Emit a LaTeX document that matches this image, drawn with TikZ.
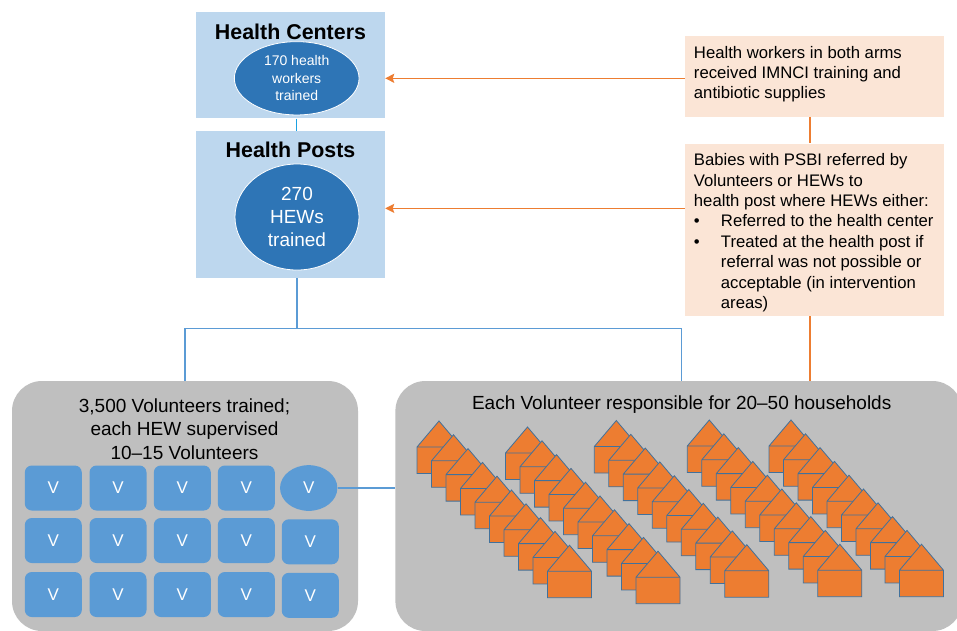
\documentclass[tikz,border=0pt]{standalone}
\usepackage{fontspec}
\setmainfont{Liberation Sans}
\usetikzlibrary{arrows.meta, shapes.geometric, positioning}
\definecolor{centerblue}{RGB}{189, 215, 238}
\definecolor{ellipseblue}{RGB}{46, 117, 182}
\definecolor{volblue}{RGB}{91, 155, 213}
\definecolor{linkcyan}{RGB}{27, 161, 226}
\definecolor{boxgray}{RGB}{191, 191, 191}
\definecolor{notepeach}{RGB}{251, 229, 214}
\definecolor{noteorange}{RGB}{237, 125, 49}
\definecolor{houseedge}{RGB}{65, 113, 156}
\newcommand{\notebullet}{\makebox[27pt][l]{\textbullet}}
\newcommand{\noteindent}{\makebox[27pt]{}}

\begin{document}
\begin{tikzpicture}[x=1pt, y=-1pt,
    levelbox/.style={fill=centerblue, minimum width=189pt, inner sep=0pt},
    leveltitle/.style={font=\bfseries\fontsize{21.4}{25}\selectfont},
    staffell/.style={ellipse, fill=ellipseblue, draw=white, line width=0.8pt, text=white, align=center, inner sep=0pt},
    notebox/.style={fill=notepeach, minimum width=258.7pt, inner sep=0pt},
    notetext/.style={anchor=north west, align=left, inner sep=0pt, font=\fontsize{16.7}{20.4}\selectfont},
    groupbox/.style={fill=boxgray, rounded corners=30pt, minimum height=250pt, inner sep=0pt},
    grouptitle/.style={align=center, font=\fontsize{19}{23.5}\selectfont},
    vbox/.style={fill=volblue, rounded corners=7pt, minimum width=57pt, minimum height=45pt, text=white, inner sep=0pt, font=\fontsize{17}{20}\selectfont},
    treeline/.style={volblue, line width=1.5pt},
    noteline/.style={noteorange, line width=1.5pt},
    house/.style={fill=noteorange, draw=houseedge, line width=0.8pt, line join=miter}]
    \path[use as bounding box, fill=white] (0,0) rectangle (957,630);

    % 卫生中心
    \node[levelbox, minimum height=106pt] (hc) at (290.5,65.3) {};
    \node[leveltitle] (hctitle) at (290.5,31.7) {Health Centers};
    \node[staffell, minimum width=124.7pt, minimum height=73.3pt, font=\fontsize{14}{17.5}\selectfont] (hcell) at (296.7,78.3) {170 health\\workers\\trained};

    % 卫生站
    \node[levelbox, minimum height=146.7pt, below=12.7pt of hc] (hp) {};
    \node[leveltitle] (hptitle) at (290.5,150) {Health Posts};
    \node[staffell, minimum width=124pt, minimum height=106pt, font=\fontsize{19}{23}\selectfont] (hpell) at (297,217) {270\\HEWs\\trained};
    \draw[linkcyan, line width=1.5pt] (hcell |- hc.south) -- (hcell |- hp.north);

    % 右侧说明框
    \node[notebox, minimum height=80.7pt] (note1) at (814.3,76.3) {};
    \node[notetext] (note1txt) at ([xshift=9pt, yshift=-10pt]note1.north west) {Health workers in both arms\\received IMNCI training and\\antibiotic supplies};
    \node[notebox, minimum height=172.4pt, below=26.6pt of note1] (note2) {};
    \node[notetext] (note2txt) at ([xshift=9pt, yshift=-10pt]note2.north west) {Babies with PSBI referred by\\Volunteers or HEWs to\\health post where HEWs either:\\\notebullet Referred to the health center\\\notebullet Treated at the health post if\\\noteindent referral was not possible or\\\noteindent acceptable (in intervention\\\noteindent areas)};

    % 志愿者与家庭
    \node[groupbox, minimum width=346pt] (vol) at (185,506) {};
    \node[groupbox, minimum width=567pt, right=37pt of vol] (hh) {};
    \node[grouptitle] (voltitle) at (184.5,429) {3,500 Volunteers trained;\\each HEW supervised\\10--15 Volunteers};
    \node[grouptitle] (hhtitle) at (681.7,405) {Each Volunteer responsible for 20--50 households};

    % 志愿者方块
    \foreach \r/\vy in {1/488, 2/540.5, 3/594.5}
        \foreach \c/\vx in {1/53.3, 2/118, 3/182.3, 4/246.3}
            \node[vbox] (v\r\c) at (\vx,\vy) {V};
    \node[vbox, ellipse, sharp corners, minimum width=57.3pt, minimum height=45.7pt] (v15) at (308.7,488) {V};
    \node[vbox] (v25) at (310.3,541.8) {V};
    \node[vbox] (v35) at (310.3,595.3) {V};

    % 房屋
    \foreach \gx/\gy in {417/447, 505.5/453, 594.3/446.5, 687.3/446, 769/446}
        \foreach \i in {0,...,9}
            \filldraw[house] ({\gx+14.5*\i},{\gy+13.8*\i}) -- ++(0,26.5) -- ++(44,0) -- ++(0,-26.5) -- ++(-22,-26) -- cycle
                ({\gx+14.5*\i},{\gy+13.8*\i}) -- ++(44,0);

    % 连线
    \path (hpell |- hp.south) ++(0,50) coordinate (fork);
    \draw[treeline] (hpell |- hp.south) -- (fork);
    \draw[treeline] (vol.north) |- (fork) -| (hhtitle |- hh.north);
    \draw[treeline] (v15.east) -- (v15.east -| hh.west);

    \coordinate (n2in) at ([yshift=21.5pt]note2.west);
    \coordinate (n1out) at ([xshift=-4.5pt]note1.south);
    \coordinate (n2out) at ([xshift=-4.5pt]note2.south);
    \draw[noteline, -{Stealth[length=9pt, width=9pt, inset=1.5pt]}] (note1.west |- hcell) -- (hc.east |- hcell);
    \draw[noteline, -{Stealth[length=9pt, width=9pt, inset=1.5pt]}] (n2in) -- (n2in -| hp.east);
    \draw[noteline] (n1out) -- (n1out |- note2.north);
    \draw[noteline] (n2out) -- (n2out |- hh.north);
\end{tikzpicture}
\end{document}
